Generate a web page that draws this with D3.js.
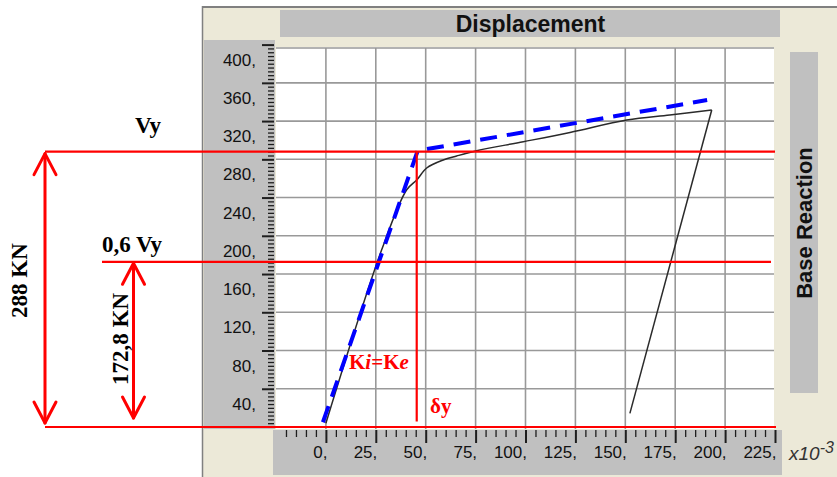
<!DOCTYPE html>
<html>
<head>
<meta charset="utf-8">
<script src="https://cdn.jsdelivr.net/npm/d3@7"></script>
<style>
  html, body { margin: 0; padding: 0; background: #ffffff; }
  svg { display: block; }
</style>
</head>
<body>
<svg id="chart" width="837" height="477"></svg>
<script>
// Pushover curve (base reaction vs displacement) with bilinear idealisation
const dispTicks = [0, 25, 50, 75, 100, 125, 150, 175, 200, 225];
const dispTickLabels = ["0,", "25,", "50,", "75,", "100,", "125,", "150,", "175,", "200,", "225,"];
const forceTicks = [40, 80, 120, 160, 200, 240, 280, 320, 360, 400];
const forceTickLabels = ["40,", "80,", "120,", "160,", "200,", "240,", "280,", "320,", "360,", "400,"];

// capacity curve: loading branch
const loadDisp  = [0, 27.9, 40.4, 45.5, 50.5, 58.8, 65.5, 75.5, 98.9, 122.3, 150.7, 172.3, 193.3];
const loadForce = [3.9, 185.1, 247.9, 258.4, 270.9, 279.3, 283.5, 289, 298.4, 308.1, 321.1, 326.4, 331.6];
// unloading branch
const unloadDisp  = [193.3, 152.3];
const unloadForce = [331.6, 14.3];

// idealised bilinear curve
const bilinDisp  = [-1.5, 46, 191];
const bilinForce = [5, 289, 342];

const Vy = 288;          // yield base shear, KN
const Vy06 = 0.6 * Vy;   // 172,8 KN
const deltaY = 45.5;     // yield displacement

const svg = d3.select("#chart");

const x = d3.scaleLinear().domain([-25, 225]).range([276, 775]);
const y = d3.scaleLinear().domain([0, 400]).range([427, 44.6]);

const beige = "#ece9d8";
const panelGray = "#c0c0c0";
const sans = "'Liberation Sans', Arial, sans-serif";
const serif = "'Liberation Serif', 'Times New Roman', serif";

// window frame
svg.append("rect").attr("x", 203).attr("y", 7).attr("width", 634).attr("height", 470).attr("fill", beige);
svg.append("line").attr("x1", 202).attr("x2", 837).attr("y1", 7).attr("y2", 7)
  .attr("stroke", "#808080").attr("stroke-width", 2);
svg.append("line").attr("x1", 202.5).attr("x2", 202.5).attr("y1", 6).attr("y2", 477)
  .attr("stroke", "#808080").attr("stroke-width", 1.5);

// title bar
svg.append("rect").attr("x", 280).attr("y", 10).attr("width", 500).attr("height", 27).attr("fill", panelGray);
svg.append("text").attr("x", 530.5).attr("y", 31.5).attr("text-anchor", "middle")
  .attr("font-family", sans).attr("font-weight", "bold").attr("font-size", 23)
  .attr("fill", "#111").text("Displacement");

// side title bar
svg.append("rect").attr("x", 790).attr("y", 52).attr("width", 28).attr("height", 341).attr("fill", panelGray);
svg.append("text").attr("transform", "translate(811.5,223) rotate(-90)").attr("text-anchor", "middle")
  .attr("font-family", sans).attr("font-weight", "bold").attr("font-size", 22)
  .attr("fill", "#111").text("Base Reaction");

// axis panels
svg.append("rect").attr("x", 204).attr("y", 40).attr("width", 71).attr("height", 389).attr("fill", panelGray);
svg.append("rect").attr("x", 273).attr("y", 430).attr("width", 509).attr("height", 45).attr("fill", panelGray);

// plotting area
svg.append("rect").attr("x", 276).attr("y", 47).attr("width", 498).attr("height", 382).attr("fill", "#ffffff");

const grid = svg.append("g").attr("stroke", "#999999").attr("stroke-width", 1.6);
grid.selectAll("line.v").data(dispTicks.filter(d => d < 225)).join("line")
  .attr("class", "v")
  .attr("x1", d => x(d)).attr("x2", d => x(d)).attr("y1", 48).attr("y2", 429);
grid.selectAll("line.h").data(forceTicks.filter(d => d < 400)).join("line")
  .attr("class", "h")
  .attr("x1", 276).attr("x2", 774).attr("y1", d => y(d)).attr("y2", d => y(d));
grid.append("line").attr("x1", 276).attr("x2", 774).attr("y1", 48).attr("y2", 48);

// vertical axis: major and minor ticks
const minorForce = d3.range(0, 401, 4).filter(d => d % 40 !== 0);
const yMinor = svg.append("g").attr("transform", "translate(274,0)")
  .call(d3.axisLeft(y).tickValues(minorForce).tickSize(6).tickFormat(""));
const yMajor = svg.append("g").attr("transform", "translate(274,0)")
  .call(d3.axisLeft(y).tickValues(forceTicks).tickSize(12)
    .tickFormat((d, i) => forceTickLabels[i]));
[yMinor, yMajor].forEach(g => {
  g.select(".domain").remove();
  g.selectAll(".tick line").attr("stroke", "#1e1e1e");
});
yMinor.selectAll(".tick line").attr("stroke-width", 1.3);
yMajor.selectAll(".tick line").attr("stroke-width", 2);
yMajor.selectAll(".tick text")
  .attr("x", -18).attr("y", 20.5).attr("dy", 0)
  .attr("font-family", sans).attr("font-size", 17).attr("fill", "#111");

// horizontal axis: major and minor ticks
const minorDisp = d3.range(-25, 226, 5).filter(d => d % 25 !== 0);
const xMinor = svg.append("g").attr("transform", "translate(0,430)")
  .call(d3.axisBottom(x).tickValues(minorDisp).tickSize(7).tickFormat(""));
const xMajor = svg.append("g").attr("transform", "translate(0,430)")
  .call(d3.axisBottom(x).tickValues(dispTicks).tickSize(13)
    .tickFormat((d, i) => dispTickLabels[i]));
[xMinor, xMajor].forEach(g => {
  g.select(".domain").remove();
  g.selectAll(".tick line").attr("stroke", "#1e1e1e");
});
xMinor.selectAll(".tick line").attr("stroke-width", 1.3);
xMajor.selectAll(".tick line").attr("stroke-width", 2);
xMajor.selectAll(".tick text")
  .attr("x", 1).attr("y", 28).attr("dy", 0).attr("text-anchor", "end")
  .attr("font-family", sans).attr("font-size", 17).attr("fill", "#111");

// axis multiplier
const mult = svg.append("text").attr("x", 789).attr("y", 460)
  .attr("font-family", sans).attr("font-style", "italic").attr("font-size", 19).attr("fill", "#333");
mult.append("tspan").text("x10");
mult.append("tspan").attr("dy", -7).attr("font-size", 16).text("-3");

// curves
const smooth = d3.line().x(d => x(d[0])).y(d => y(d[1])).curve(d3.curveCatmullRom.alpha(0.5));
const straight = d3.line().x(d => x(d[0])).y(d => y(d[1]));
svg.append("path")
  .attr("d", smooth(loadDisp.map((d, i) => [d, loadForce[i]])))
  .attr("fill", "none").attr("stroke", "#2a2a2a").attr("stroke-width", 1.5)
  .attr("stroke-linejoin", "round");
svg.append("path")
  .attr("d", straight(unloadDisp.map((d, i) => [d, unloadForce[i]])))
  .attr("fill", "none").attr("stroke", "#2a2a2a").attr("stroke-width", 1.5);
svg.append("path")
  .attr("d", straight(bilinDisp.map((d, i) => [d, bilinForce[i]])))
  .attr("fill", "none").attr("stroke", "#0000ff").attr("stroke-width", 4)
  .attr("stroke-dasharray", "17,10");

// annotations
const red = "#ff0000";
const ann = svg.append("g").attr("stroke", red).attr("stroke-width", 2.2).attr("fill", "none");
ann.append("line").attr("x1", 45).attr("x2", x(225)).attr("y1", y(Vy)).attr("y2", y(Vy));
ann.append("line").attr("x1", 102).attr("x2", 771).attr("y1", y(Vy06)).attr("y2", y(Vy06));
ann.append("line").attr("x1", 45).attr("x2", 776).attr("y1", y(0)).attr("y2", y(0));
ann.append("line").attr("x1", x(deltaY)).attr("x2", x(deltaY)).attr("y1", y(Vy)).attr("y2", 421.5);

function doubleArrow(ax, yTop, yBot) {
  const g = svg.append("g").attr("stroke", red).attr("stroke-width", 3)
    .attr("fill", "none").attr("stroke-linecap", "round").attr("stroke-linejoin", "round");
  g.append("line").attr("x1", ax).attr("x2", ax).attr("y1", yTop).attr("y2", yBot);
  g.append("path").attr("d", `M${ax - 11},${yTop + 21} L${ax},${yTop} L${ax + 11},${yTop + 21}`);
  g.append("path").attr("d", `M${ax - 11},${yBot - 21} L${ax},${yBot} L${ax + 11},${yBot - 21}`);
}
doubleArrow(45, y(Vy) + 2, y(0) - 4);
doubleArrow(133.5, y(Vy06) + 1.5, y(0) - 9);

const label = (sel) => sel.attr("font-family", serif).attr("font-weight", "bold");
label(svg.append("text")).attr("x", 135).attr("y", 133).attr("font-size", 23).attr("fill", "#000").text("Vy");
label(svg.append("text")).attr("x", 102).attr("y", 252).attr("font-size", 23).attr("fill", "#000").text("0,6 Vy");
label(svg.append("text")).attr("transform", "translate(27,280.5) rotate(-90)")
  .attr("text-anchor", "middle").attr("font-size", 23).attr("fill", "#000").text("288 KN");
label(svg.append("text")).attr("transform", "translate(128,339) rotate(-90)")
  .attr("text-anchor", "middle").attr("font-size", 23).attr("fill", "#000").text("172,8 KN");

const k = label(svg.append("text")).attr("x", 349).attr("y", 369).attr("font-size", 21).attr("fill", red);
k.append("tspan").text("K");
k.append("tspan").attr("font-style", "italic").text("i");
k.append("tspan").text("=K");
k.append("tspan").attr("font-style", "italic").text("e");

label(svg.append("text")).attr("x", 430).attr("y", 412.5).attr("font-size", 21).attr("fill", red).text("δy");
</script>
</body>
</html>
